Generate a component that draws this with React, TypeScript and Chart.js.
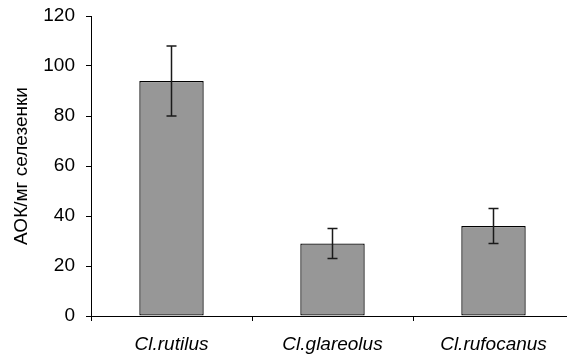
import React, { useEffect, useRef } from "react";
import { Chart, registerables } from "chart.js";

Chart.register(...registerables);

const categories = ["Cl.rutilus", "Cl.glareolus", "Cl.rufocanus"];
const meanValues = [94, 29, 36];
const errorValues = [14, 6, 7];
const yTicks = [0, 20, 40, 60, 80, 100, 120];

const FONT = "'Liberation Sans', Arial, sans-serif";

const errorBarPlugin = {
  id: "errorBars",
  afterDatasetsDraw(chart: any) {
    const ctx = chart.ctx;
    const meta = chart.getDatasetMeta(0);
    const y = chart.scales.y;
    ctx.save();
    ctx.strokeStyle = "#1a1a1a";
    ctx.lineWidth = 1.5;
    meta.data.forEach((bar: any, i: number) => {
      const x = bar.x;
      const top = y.getPixelForValue(meanValues[i] + errorValues[i]);
      const bot = y.getPixelForValue(meanValues[i] - errorValues[i]);
      ctx.beginPath();
      ctx.moveTo(x, top);
      ctx.lineTo(x, bot);
      ctx.moveTo(x - 5, top);
      ctx.lineTo(x + 5, top);
      ctx.moveTo(x - 5, bot);
      ctx.lineTo(x + 5, bot);
      ctx.stroke();
    });
    ctx.restore();
  },
};

export default function App() {
  const ref = useRef<HTMLCanvasElement | null>(null);
  useEffect(() => {
    document.body.style.margin = "0";
    const chart = new Chart(ref.current as HTMLCanvasElement, {
      type: "bar",
      data: {
        labels: categories,
        datasets: [
          {
            data: meanValues,
            backgroundColor: "#979797",
            borderColor: "#000000",
            borderWidth: 1.3,
            borderSkipped: false,
            barPercentage: 0.4,
            categoryPercentage: 1,
          },
        ],
      },
      options: {
        responsive: false,
        animation: false,
        layout: { padding: { top: 16, right: 6, left: 0, bottom: 0 } },
        plugins: { legend: { display: false }, tooltip: { enabled: false } },
        scales: {
          x: {
            grid: {
              offset: true,
              drawOnChartArea: false,
              tickLength: 5,
              color: "#000",
            },
            border: { display: true, color: "#000", width: 1 },
            ticks: {
              color: "#000",
              padding: 12,
              font: { family: FONT, size: 19, style: "italic" },
            },
            afterFit: (s: any) => {
              s.height = 40;
              s.paddingLeft = 0;
              s.paddingRight = 0;
            },
          },
          y: {
            min: 0,
            max: 120,
            afterBuildTicks: (s: any) => {
              s.ticks = yTicks.map((v) => ({ value: v }));
            },
            grid: { drawOnChartArea: false, tickLength: 5, color: "#000" },
            border: { display: true, color: "#000", width: 1 },
            ticks: {
              color: "#000",
              padding: 11,
              font: { family: FONT, size: 19 },
            },
            title: {
              display: true,
              text: "АОК/мг селезенки",
              color: "#000",
              padding: { top: 10, bottom: 0 },
              font: { family: FONT, size: 19 },
            },
            afterFit: (s: any) => {
              s.width = 91;
              s.paddingTop = 0;
              s.paddingBottom = 0;
            },
          },
        },
      },
      plugins: [errorBarPlugin],
    });
    return () => chart.destroy();
  }, []);
  return (
    <div style={{ width: 567, height: 356, overflow: "hidden", background: "#fff" }}>
      <canvas ref={ref} width={580} height={356} style={{ width: 580, height: 356, display: "block" }} />
    </div>
  );
}
